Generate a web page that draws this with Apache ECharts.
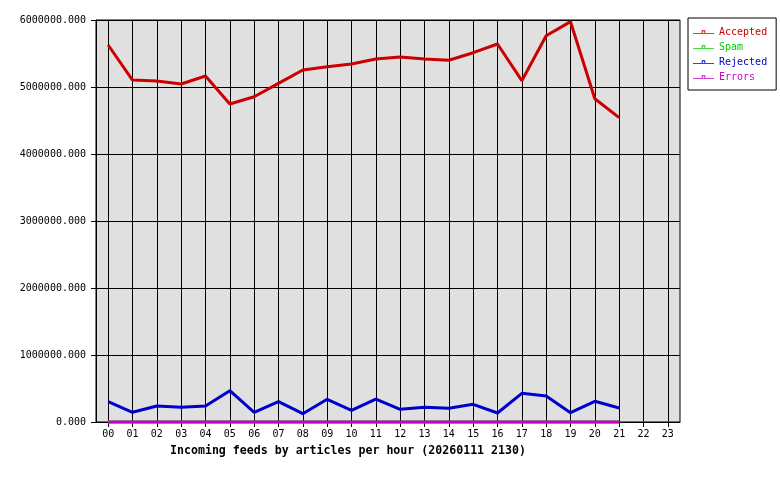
<!DOCTYPE html>
<html>
<head>
<meta charset="utf-8">
<script src="https://cdn.jsdelivr.net/npm/echarts@6/dist/echarts.min.js"></script>
<style>html,body{margin:0;padding:0;background:#fff;}#c{width:780px;height:480px;}</style>
</head>
<body>
<div id="c"></div>
<script>
var hours = ["00","01","02","03","04","05","06","07","08","09","10","11","12","13","14","15","16","17","18","19","20","21","22","23"];
var accepted = [5627000,5104000,5090000,5045000,5164000,4746000,4855000,5055000,5254000,5303000,5343000,5418000,5448000,5418000,5399000,5512000,5642000,5094000,5766000,5975000,4825000,4542000];
var spam = [0,0,0,0,0,0,0,0,0,0,0,0,0,0,0,0,0,0,0,0,0,0];
var rejected = [303000,145000,239000,219000,239000,467000,145000,303000,124000,339000,175000,343000,190000,219000,204000,264000,134000,428000,388000,139000,309000,209000];
var errors = [0,0,0,0,0,0,0,0,0,0,0,0,0,0,0,0,0,0,0,0,0,0];
var yTicks = [0,1000000,2000000,3000000,4000000,5000000,6000000];
var titleText = "Incoming feeds by articles per hour (20260111 2130)";

var mono = "DejaVu Sans Mono";
var colors = {Accepted:"#cc0000", Spam:"#00cc00", Rejected:"#0000cc", Errors:"#cc00cc"};
var iconPath = "path://M0,5H24V6H0Z M10,2H14V6H10Z M11,3V5H13V3Z";

function mk(name, data){
  return {name:name, type:"line", data:data, showSymbol:false, symbol:"none",
    lineStyle:{width:3, color:colors[name]}, itemStyle:{color:colors[name]},
    clip:false, animation:false};
}

var chart = echarts.init(document.getElementById("c"), null, {renderer:"canvas"});
chart.setOption({
  animation:false,
  backgroundColor:"#ffffff",
  title:{text:titleText, left:170, top:445, padding:0,
    textStyle:{fontFamily:mono, fontSize:11.6, fontWeight:"bold", color:"#000"}},
  legend:{orient:"vertical", left:688, top:18, padding:[9,9,8,5],
    borderColor:"#000", borderWidth:1, backgroundColor:"#fff",
    itemWidth:21, itemHeight:8, itemGap:5, selectedMode:false,
    data:["Accepted","Spam","Rejected","Errors"].map(function(n){
      return {name:n, icon:iconPath, itemStyle:{color:colors[n]}, textStyle:{color:colors[n]}};
    }),
    textStyle:{fontFamily:mono, fontSize:10}},
  grid:{left:96, top:20, width:584, height:402, show:true, backgroundColor:"#e0e0e0",
    borderColor:"#000", borderWidth:1, containLabel:false},
  xAxis:{type:"category", data:hours, boundaryGap:true,
    axisLine:{show:true, lineStyle:{color:"#000", width:1}},
    axisTick:{show:true, alignWithLabel:true, length:5, lineStyle:{color:"#000"}},
    splitLine:{show:true, alignWithLabel:true, lineStyle:{color:"#000", width:1}},
    axisLabel:{interval:0, margin:7, fontFamily:mono, fontSize:10, color:"#000"}},
  yAxis:{type:"value", min:yTicks[0], max:yTicks[yTicks.length-1], interval:1000000,
    axisLine:{show:true, lineStyle:{color:"#000"}},
    axisTick:{show:true, length:5, lineStyle:{color:"#000"}},
    splitLine:{show:true, lineStyle:{color:"#000", width:1}},
    axisLabel:{margin:10, fontFamily:mono, fontSize:10, color:"#000",
      formatter:function(v){return v.toFixed(3);}}},
  series:[mk("Accepted",accepted), mk("Spam",spam), mk("Rejected",rejected), mk("Errors",errors)]
});
</script>
</body>
</html>
